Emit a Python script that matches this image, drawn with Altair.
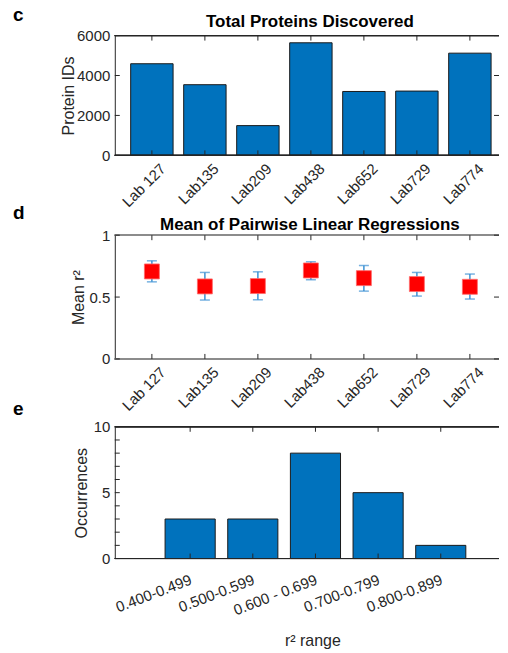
import altair as alt
import pandas as pd

labs = ["Lab 127", "Lab135", "Lab209", "Lab438", "Lab652", "Lab729", "Lab774"]
protein_ids = [4590, 3540, 1490, 5640, 3200, 3220, 5120]
mean_r2 = [0.707, 0.586, 0.589, 0.715, 0.653, 0.605, 0.583]
r2_low = [0.623, 0.476, 0.478, 0.640, 0.548, 0.508, 0.484]
r2_high = [0.793, 0.699, 0.704, 0.785, 0.755, 0.699, 0.686]
ranges = ["0.400-0.499", "0.500-0.599", "0.600 - 0.699", "0.700-0.799", "0.800-0.899"]
occurrences = [3, 3, 8, 5, 1]
c_yticks = [0, 2000, 4000, 6000]
d_yticks = [0, 0.5, 1]
e_ylabels = [0, 5, 10]
e_yticks = [0, 1, 2, 3, 4, 5, 6, 7, 8, 9, 10]

FONT = "Liberation Sans"
TXT = "#262626"
BLUE = "#0072BD"
W = 385        # visible plot width (the original axes box runs past the page edge)
RANGE_W = 393  # full axes width of the original figure
TL = 5  # tick length
LFS = 15  # tick label font size
TFS = 16  # axis title font size

df_c = pd.DataFrame({"lab": labs, "ids": protein_ids})
df_d = pd.DataFrame({"lab": labs, "mean": mean_r2, "lo": r2_low, "hi": r2_high})
df_e = pd.DataFrame({"rng": ranges, "occ": occurrences})


def letter(txt, dy):
    return alt.Chart(pd.DataFrame({"t": [txt]})).mark_text(
        font=FONT, fontSize=19, fontWeight="bold", color="black",
        align="left", baseline="alphabetic"
    ).encode(x=alt.value(-102), y=alt.value(dy), text="t:N")


def ptitle(txt, dy):
    return alt.Chart(pd.DataFrame({"t": [txt]})).mark_text(
        font=FONT, fontSize=17, fontWeight="bold", color="black",
        align="center", baseline="alphabetic"
    ).encode(x=alt.value(RANGE_W / 2 - 1), y=alt.value(dy), text="t:N")


def hline(df, y, color=TXT, sw=1):
    return alt.Chart(df).mark_rule(color=color, strokeWidth=sw).encode(
        x=alt.value(0), x2=alt.value(W), y=alt.value(y))


def yaxis(title, values, fmt, tpad):
    return alt.Axis(title=title, values=values, format=fmt, ticks=False, labelPadding=5,
                    titlePadding=tpad, domainColor=TXT, labelOverlap=False, labelFlush=False,
                    labelFontSize=LFS, titleFontSize=TFS, labelFont=FONT, titleFont=FONT,
                    labelColor=TXT, titleColor=TXT, titleFontWeight="normal")


def xlabels(df, xenc, field, y, angle, dx, dy):
    return alt.Chart(df).mark_text(
        font=FONT, fontSize=LFS, color=TXT, align="right", baseline="middle",
        angle=angle, dx=dx, dy=dy
    ).encode(x=xenc, y=alt.value(y), text=f"{field}:N")


lab_scale = alt.Scale(domain=labs, paddingInner=0.2, paddingOuter=0.3, range=[0, RANGE_W])

# ---------- panel c ----------
Hc = 120
yc = alt.Scale(domain=[0, 6000], nice=False)
ax_c_y = yaxis("Protein IDs", c_yticks, "d", 0)
xc = alt.X("lab:N", scale=lab_scale, axis=None, sort=labs)
bars_c = alt.Chart(df_c).mark_bar(color=BLUE, stroke="#1a1a1a", strokeWidth=1).encode(
    x=xc, y=alt.Y("ids:Q", scale=yc, axis=ax_c_y))
xt_c_bot = alt.Chart(df_c).mark_rule(color=TXT).encode(x=xc, y=alt.value(Hc), y2=alt.value(Hc - TL))
xt_c_top = alt.Chart(df_c).mark_rule(color=TXT).encode(x=xc, y=alt.value(0), y2=alt.value(TL))
df_cy = pd.DataFrame({"v": c_yticks})
ycv = alt.Y("v:Q", scale=yc, axis=ax_c_y)
yt_c_l = alt.Chart(df_cy).mark_rule(color=TXT).encode(y=ycv, x=alt.value(0), x2=alt.value(TL))
yt_c_r = alt.Chart(df_cy).mark_rule(color=TXT).encode(y=ycv, x=alt.value(W - TL), x2=alt.value(W))
lab_c = xlabels(df_c, xc, "lab", Hc + 11, 315, 8, 8)
panel_c = alt.layer(bars_c, hline(df_c, Hc), xt_c_bot, xt_c_top, yt_c_l, yt_c_r, hline(df_c, 0),
                    lab_c, ptitle("Total Proteins Discovered", -9), letter("c", -15)).properties(
    width=W, height=Hc)

# ---------- panel d ----------
Hd = 124
yd = alt.Scale(domain=[0, 1], nice=False)
ax_d_y = yaxis("Mean r²", d_yticks, "~g", 2)
xd = alt.X("lab:N", scale=lab_scale, axis=None, sort=labs)
ERR = "#3d92d4"
err_rule = alt.Chart(df_d).mark_rule(color=ERR, strokeWidth=1.5).encode(
    x=xd, y=alt.Y("lo:Q", scale=yd, axis=ax_d_y), y2="hi:Q")
cap_lo = alt.Chart(df_d).mark_tick(color=ERR, size=10, thickness=1.5, orient="horizontal").encode(
    x=xd, y=alt.Y("lo:Q", scale=yd, axis=ax_d_y))
cap_hi = alt.Chart(df_d).mark_tick(color=ERR, size=10, thickness=1.5, orient="horizontal").encode(
    x=xd, y=alt.Y("hi:Q", scale=yd, axis=ax_d_y))
sq = alt.Chart(df_d).mark_square(size=225, color="#ff0000", opacity=1, stroke="#ff6a6a",
                                 strokeWidth=0.8).encode(x=xd, y=alt.Y("mean:Q", scale=yd, axis=ax_d_y))
xt_d_bot = alt.Chart(df_d).mark_rule(color=TXT).encode(x=xd, y=alt.value(Hd), y2=alt.value(Hd - TL))
xt_d_top = alt.Chart(df_d).mark_rule(color=TXT).encode(x=xd, y=alt.value(0), y2=alt.value(TL))
df_dy = pd.DataFrame({"v": d_yticks})
ydv = alt.Y("v:Q", scale=yd, axis=ax_d_y)
yt_d_l = alt.Chart(df_dy).mark_rule(color=TXT).encode(y=ydv, x=alt.value(0), x2=alt.value(TL))
yt_d_r = alt.Chart(df_dy).mark_rule(color=TXT).encode(y=ydv, x=alt.value(W - TL), x2=alt.value(W))
lab_d = xlabels(df_d, xd, "lab", Hd + 11, 315, 8, 8)
panel_d = alt.layer(err_rule, cap_lo, cap_hi, sq, hline(df_d, Hd, "#8c8c8c", 1.5),
                    hline(df_d, 0, "#8c8c8c", 1.5), xt_d_bot, xt_d_top, yt_d_l, yt_d_r, lab_d,
                    ptitle("Mean of Pairwise Linear Regressions", -5), letter("d", -16)).properties(
    width=W, height=Hd)

# ---------- panel e ----------
He = 132
ye = alt.Scale(domain=[0, 10], nice=False)
rng_scale = alt.Scale(domain=ranges, paddingInner=0.2, paddingOuter=0.73, align=0.55,
                      range=[0, RANGE_W])
ax_e_y = yaxis("Occurrences", e_ylabels, "d", 4)
xe = alt.X("rng:N", scale=rng_scale, sort=ranges, axis=None)
bars_e = alt.Chart(df_e).mark_bar(color=BLUE, stroke="#1a1a1a", strokeWidth=1).encode(
    x=xe, y=alt.Y("occ:Q", scale=ye, axis=ax_e_y))
xt_e_bot = alt.Chart(df_e).mark_rule(color=TXT).encode(x=xe, y=alt.value(He), y2=alt.value(He - TL))
xt_e_top = alt.Chart(df_e).mark_rule(color=TXT).encode(x=xe, y=alt.value(0), y2=alt.value(TL))
df_ey = pd.DataFrame({"v": e_yticks})
yt_e_l = alt.Chart(df_ey).mark_rule(color=TXT).encode(
    y=alt.Y("v:Q", scale=ye, axis=ax_e_y), x=alt.value(0), x2=alt.value(TL))
lab_e = xlabels(df_e, xe, "rng", He + 21, 339, 1, 0)
xtitle_e = alt.Chart(pd.DataFrame({"t": ["r² range"]})).mark_text(
    font=FONT, fontSize=TFS, color=TXT, align="center", baseline="alphabetic"
).encode(x=alt.value(RANGE_W / 2 + 2), y=alt.value(He + 88), text="t:N")
panel_e = alt.layer(bars_e, hline(df_e, He), xt_e_bot, xt_e_top, yt_e_l, hline(df_e, 0),
                    lab_e, xtitle_e, letter("e", -12)).properties(width=W, height=He)

upper = alt.vconcat(panel_c, panel_d, spacing=-6)
chart = alt.vconcat(upper, panel_e, spacing=-14).properties(
    padding={"left": 5, "top": -3, "right": 0, "bottom": 0}
).configure_view(stroke=None).configure_axis(grid=False, domainWidth=1)

chart.save("out.html", embed_options={"renderer": "svg", "actions": False})
